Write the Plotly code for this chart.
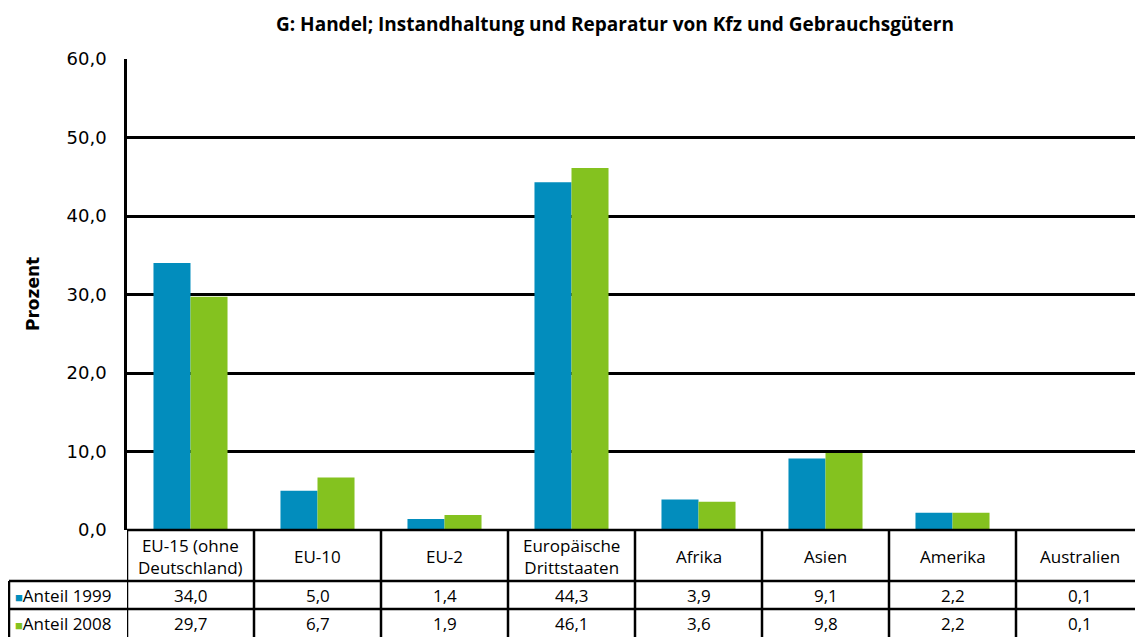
import plotly.graph_objects as go

categories = ["EU-15 (ohne Deutschland)", "EU-10", "EU-2", "Europäische Drittstaaten",
              "Afrika", "Asien", "Amerika", "Australien"]
category_labels = ["EU-15 (ohne<br>Deutschland)", "EU-10", "EU-2", "Europäische<br>Drittstaaten",
                   "Afrika", "Asien", "Amerika", "Australien"]
series_names = ["Anteil 1999", "Anteil 2008"]
values_1999 = [34.0, 5.0, 1.4, 44.3, 3.9, 9.1, 2.2, 0.1]
values_2008 = [29.7, 6.7, 1.9, 46.1, 3.6, 9.8, 2.2, 0.1]
y_ticks = [0, 10, 20, 30, 40, 50, 60]
title_text = "G: Handel; Instandhaltung und Reparatur von Kfz und Gebrauchsgütern"
y_title = "Prozent"

# page body has an 8px margin; the figure is laid out in target-image pixels shifted by it
OFF = 8
W, H = 1143 - OFF, 637 - OFF
colors = ["#028DBD", "#84C21F"]

def px_y(y):
    return 1 - (y - OFF) / H

def px_x(x):
    return (x - OFF) / W

def fmt(v):
    return f"{v:.1f}".replace(".", ",")

x_idx = list(range(len(categories)))

fig = go.Figure()
for name, vals, col in zip(series_names, [values_1999, values_2008], colors):
    fig.add_trace(go.Bar(x=x_idx, y=vals, name=name, marker=dict(color=col, line=dict(width=0))))

table_font = dict(family="Open Sans, Noto Sans, sans-serif", size=17, color="black")
shapes = []
annotations = []
line = dict(color="black", width=2.5)

y_header_top, y_r1_top, y_r2_top, y_bottom = 530, 581, 609, 637
x_table_left = 9
shapes.append(dict(type="line", xref="x", yref="paper", x0=-0.5, x1=len(categories) - 0.5,
                   y0=px_y(y_header_top), y1=px_y(y_header_top), line=line))
for yy in [y_r1_top, y_r2_top]:
    shapes.append(dict(type="line", xref="paper", yref="paper", x0=px_x(x_table_left), x1=1,
                       y0=px_y(yy), y1=px_y(yy), line=line))
shapes.append(dict(type="line", xref="paper", yref="paper", x0=px_x(x_table_left), x1=px_x(x_table_left),
                   y0=px_y(y_r1_top), y1=0, line=line))
for i in range(len(categories) + 1):
    shapes.append(dict(type="line", xref="x", yref="paper", x0=i - 0.5, x1=i - 0.5,
                       y0=px_y(y_header_top), y1=0, line=line))

def ann(**kw):
    d = dict(showarrow=False, xanchor="center", yanchor="middle", font=table_font)
    d.update(kw)
    annotations.append(d)

for i, lab in enumerate(category_labels):
    ann(x=i, y=px_y((y_header_top + y_r1_top) / 2 + 1), xref="x", yref="paper", text=lab, align="center")
    ann(x=i, y=px_y((y_r1_top + y_r2_top) / 2), xref="x", yref="paper", text=fmt(values_1999[i]))
    ann(x=i, y=px_y((y_r2_top + y_bottom) / 2), xref="x", yref="paper", text=fmt(values_2008[i]))

for name, col, (a, b) in zip(series_names, colors, [(y_r1_top, y_r2_top), (y_r2_top, y_bottom)]):
    ann(x=px_x(13), y=px_y((a + b) / 2), xref="paper", yref="paper", xanchor="left",
        text=f"<span style='color:{col};font-size:13px'>■</span>{name}")

ann(x=px_x(615), y=px_y(24), xref="paper", yref="paper",
    text=f"<b>{title_text}</b>", font=dict(family="Open Sans, sans-serif", size=19, color="black"))
ann(x=px_x(33), y=px_y(294), xref="paper", yref="paper", text=f"<b>{y_title}</b>", textangle=-90,
    font=dict(family="DejaVu Sans, sans-serif", size=17, color="black"))

fig.update_layout(
    template="none",
    width=W, height=H,
    margin=dict(l=0, r=0, t=0, b=0, pad=0, autoexpand=False),
    paper_bgcolor="white", plot_bgcolor="white",
    barmode="group", bargap=0.417, bargroupgap=0,
    showlegend=False,
    shapes=shapes, annotations=annotations,
    xaxis=dict(domain=[px_x(127), 1], range=[-0.5, len(categories) - 0.5], automargin=False,
               showticklabels=False, showgrid=False, zeroline=False, showline=False, fixedrange=True),
    yaxis=dict(domain=[px_y(530), px_y(59)], range=[0, 60], tickvals=y_ticks, automargin=False,
               ticktext=[fmt(v) for v in y_ticks],
               showgrid=True, gridcolor="black", gridwidth=2.5,
               zeroline=False, showline=True, linecolor="black", linewidth=2.5,
               ticks="outside", ticklen=0, ticklabelstandoff=14,
               tickfont=dict(family="DejaVu Sans, sans-serif", size=18, color="black")),
)

fig.write_html("out.html")
